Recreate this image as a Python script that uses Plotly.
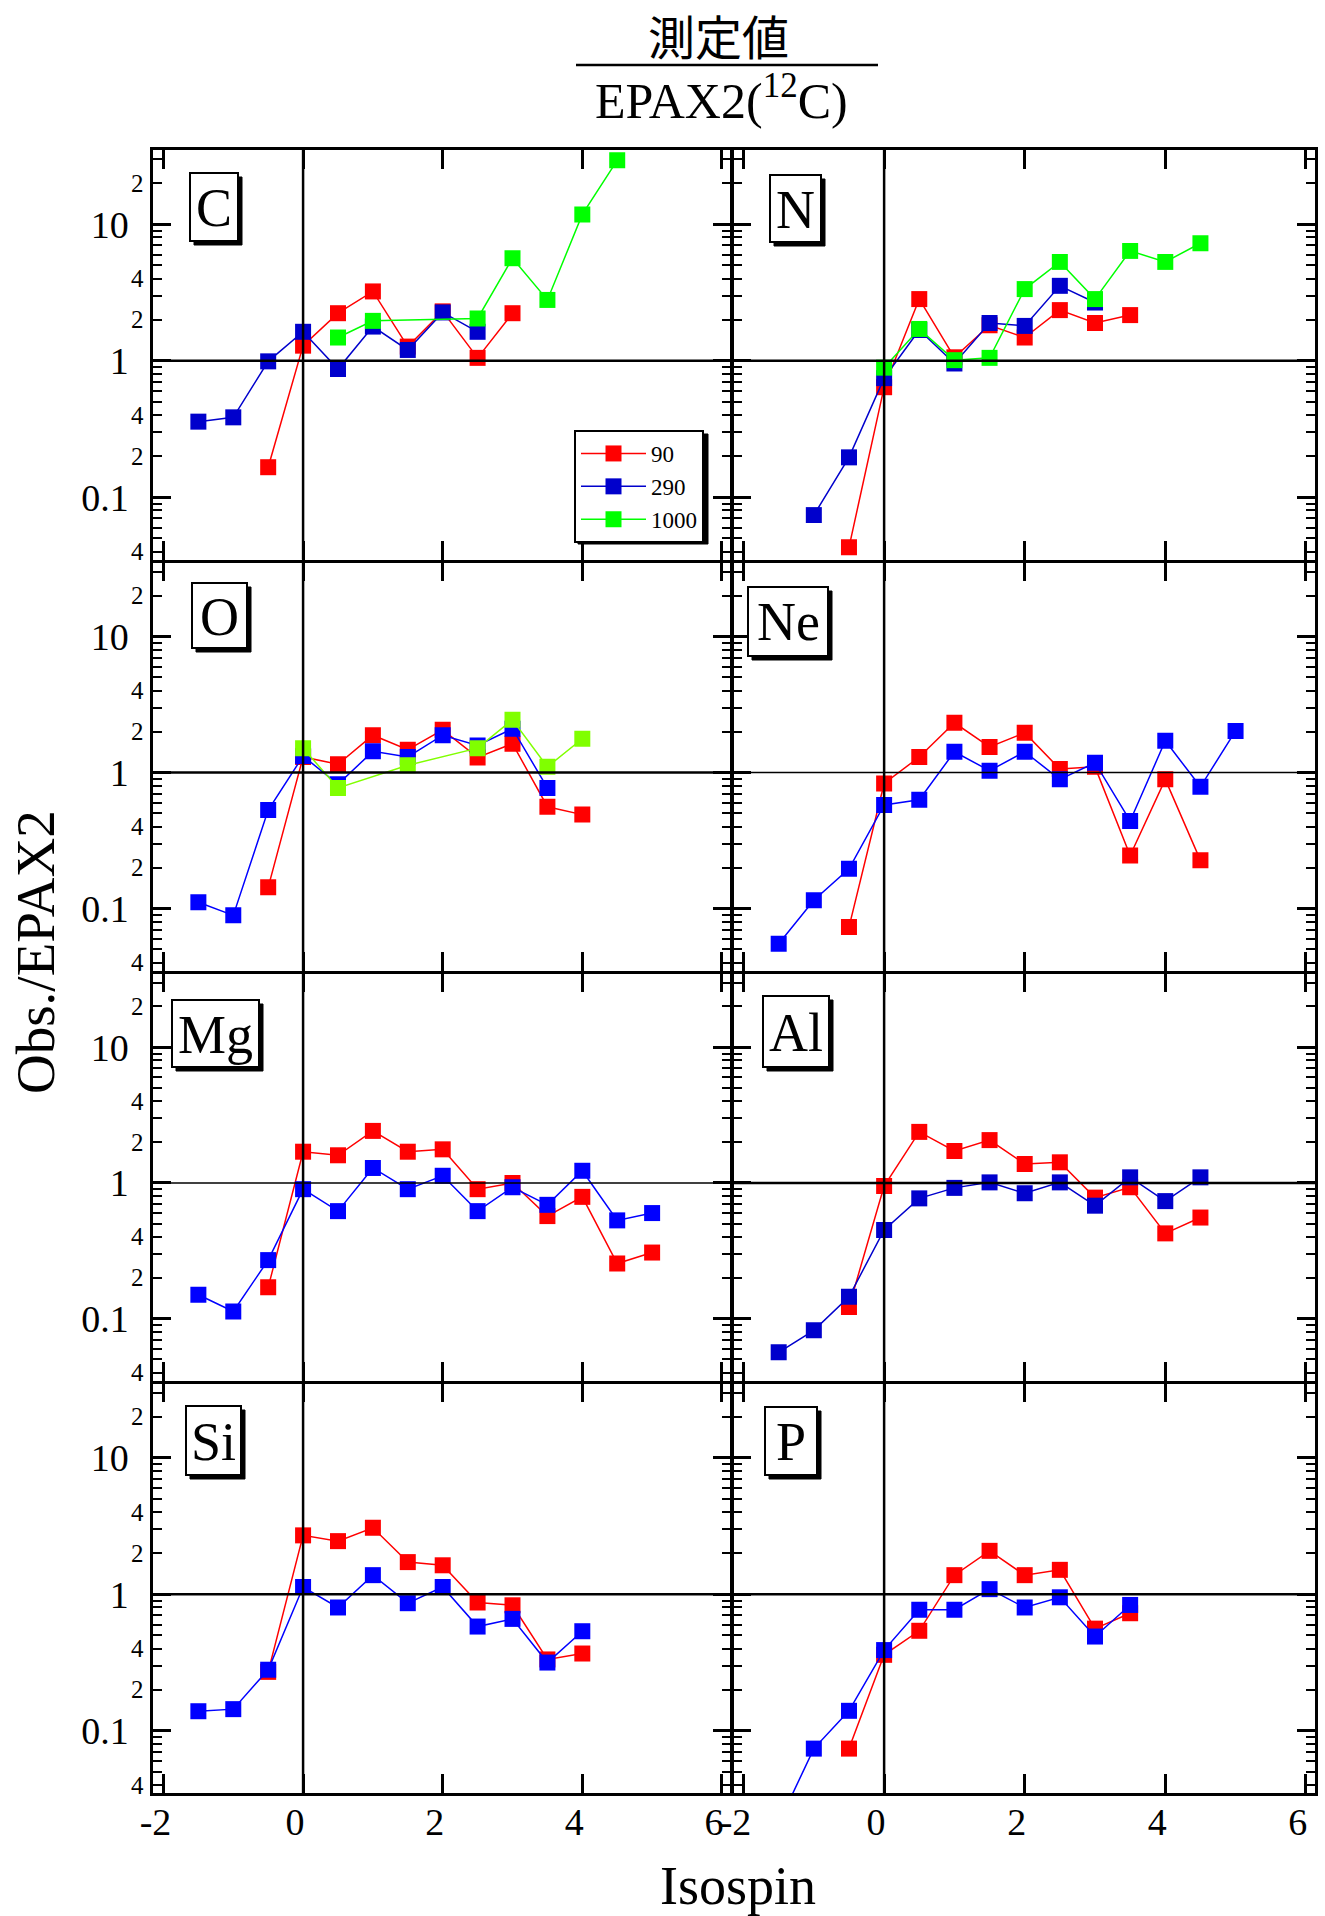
import math
import plotly.graph_objects as go

FONT = "Liberation Serif"
W, H = 1325, 1916

# ---------------- data (Isospin, Obs./EPAX2) ----------------
C_x90 = [-0.5, 0, 0.5, 1, 1.5, 2, 2.5, 3]
C_y90 = [0.166, 1.29, 2.23, 3.22, 1.27, 2.3, 1.05, 2.23]
C_x290 = [-1.5, -1, -0.5, 0, 0.5, 1, 1.5, 2, 2.5]
C_y290 = [0.358, 0.385, 0.99, 1.63, 0.87, 1.78, 1.2, 2.26, 1.63]
C_x1000 = [0.5, 1, 2.5, 3, 3.5, 4, 4.5]
C_y1000 = [1.48, 1.96, 2.04, 5.64, 2.79, 11.8, 29.4]

N_x90 = [-0.5, 0, 0.5, 1, 1.5, 2, 2.5, 3, 3.5]
N_y90 = [0.043, 0.64, 2.83, 1.06, 1.82, 1.48, 2.35, 1.89, 2.16]
N_x290 = [-1, -0.5, 0, 0.5, 1, 1.5, 2, 2.5, 3]
N_y290 = [0.074, 0.196, 0.746, 1.68, 0.955, 1.89, 1.80, 3.54, 2.67]
N_x1000 = [0, 0.5, 1, 1.5, 2, 2.5, 3, 3.5, 4, 4.5]
N_y1000 = [0.89, 1.71, 1.01, 1.05, 3.35, 5.3, 2.83, 6.38, 5.3, 7.26]

O_x90 = [-0.5, 0, 0.5, 1, 1.5, 2, 2.5, 3, 3.5, 4]
O_y90 = [0.143, 1.3, 1.15, 1.88, 1.47, 2.06, 1.29, 1.63, 0.56, 0.49]
O_x290 = [-1.5, -1, -0.5, 0, 0.5, 1, 1.5, 2, 2.5, 3, 3.5]
O_y290 = [0.111, 0.089, 0.53, 1.32, 0.82, 1.43, 1.30, 1.88, 1.58, 2.1, 0.77]
O_x1000 = [0, 0.5, 1.5, 2.5, 3, 3.5, 4]
O_y1000 = [1.51, 0.77, 1.13, 1.51, 2.44, 1.10, 1.77]

Ne_x90 = [-0.5, 0, 0.5, 1, 1.5, 2, 2.5, 3, 3.5, 4, 4.5]
Ne_y90 = [0.073, 0.83, 1.30, 2.32, 1.54, 1.96, 1.06, 1.1, 0.245, 0.89, 0.226]
Ne_x290 = [-1.5, -1, -0.5, 0, 0.5, 1, 1.5, 2, 2.5, 3, 3.5, 4, 4.5, 5]
Ne_y290 = [0.055, 0.115, 0.196, 0.577, 0.63, 1.42, 1.03, 1.42, 0.89, 1.18, 0.44, 1.71, 0.785, 2.02]

Mg_x90 = [-0.5, 0, 0.5, 1, 1.5, 2, 2.5, 3, 3.5, 4, 4.5, 5]
Mg_y90 = [0.17, 1.70, 1.60, 2.42, 1.70, 1.77, 0.90, 1.0, 0.57, 0.79, 0.255, 0.307]
Mg_x290 = [-1.5, -1, -0.5, 0, 0.5, 1, 1.5, 2, 2.5, 3, 3.5, 4, 4.5, 5]
Mg_y290 = [0.15, 0.113, 0.27, 0.90, 0.62, 1.29, 0.90, 1.13, 0.62, 0.93, 0.69, 1.23, 0.53, 0.60]

Al_x90 = [-0.5, 0, 0.5, 1, 1.5, 2, 2.5, 3, 3.5, 4, 4.5]
Al_y90 = [0.122, 0.95, 2.38, 1.72, 2.07, 1.38, 1.42, 0.78, 0.93, 0.425, 0.556]
Al_x290 = [-1.5, -1, -0.5, 0, 0.5, 1, 1.5, 2, 2.5, 3, 3.5, 4, 4.5]
Al_y290 = [0.0565, 0.082, 0.145, 0.45, 0.77, 0.92, 1.01, 0.84, 1.01, 0.68, 1.10, 0.735, 1.10]

Si_x90 = [-0.5, 0, 0.5, 1, 1.5, 2, 2.5, 3, 3.5, 4]
Si_y90 = [0.27, 2.70, 2.45, 3.07, 1.72, 1.63, 0.87, 0.83, 0.333, 0.368]
Si_x290 = [-1.5, -1, -0.5, 0, 0.5, 1, 1.5, 2, 2.5, 3, 3.5, 4]
Si_y290 = [0.139, 0.144, 0.28, 1.13, 0.80, 1.38, 0.86, 1.13, 0.58, 0.66, 0.316, 0.536]

P_x90 = [-0.5, 0, 0.5, 1, 1.5, 2, 2.5, 3, 3.5]
P_y90 = [0.074, 0.36, 0.54, 1.38, 2.08, 1.38, 1.51, 0.56, 0.726]
P_x290 = [-1.5, -1, -0.5, 0, 0.5, 1, 1.5, 2, 2.5, 3, 3.5]
P_y290 = [0.021, 0.074, 0.14, 0.39, 0.77, 0.77, 1.09, 0.80, 0.95, 0.49, 0.835]

energies = ["90", "290", "1000"]
x_ticks = [-2, 0, 2, 4, 6]
y_major = [0.1, 1, 10]
y_major_text = ["0.1", "1", "10"]
y_minor_labels = [(0.04, "4"), (0.2, "2"), (0.4, "4"), (2, "2"), (4, "4"), (20, "2")]

RED = "#ff0000"
BLUE_D = "#0000cc"
BLUE = "#0000ff"
GREEN = "#00ff00"
LIME = "#80ff00"

panels = [
    ("C", [(C_x90, C_y90, RED), (C_x290, C_y290, BLUE_D), (C_x1000, C_y1000, GREEN)]),
    ("N", [(N_x90, N_y90, RED), (N_x290, N_y290, BLUE_D), (N_x1000, N_y1000, GREEN)]),
    ("O", [(O_x90, O_y90, RED), (O_x290, O_y290, BLUE), (O_x1000, O_y1000, LIME)]),
    ("Ne", [(Ne_x90, Ne_y90, RED), (Ne_x290, Ne_y290, BLUE)]),
    ("Mg", [(Mg_x90, Mg_y90, RED), (Mg_x290, Mg_y290, BLUE)]),
    ("Al", [(Al_x90, Al_y90, RED), (Al_x290, Al_y290, BLUE_D)]),
    ("Si", [(Si_x90, Si_y90, RED), (Si_x290, Si_y290, BLUE)]),
    ("P", [(P_x90, P_y90, RED), (P_x290, P_y290, BLUE)]),
]
thin_unity_line = {"Ne", "Mg"}

# ---------------- layout geometry (pixels) ----------------
XR = [-2.15, 6.13]
YR = [-1.456, 1.544]
col_px = [(153, 731), (733, 1315)]
row_px = [(150, 559.5), (562.5, 970.5), (973.5, 1380.5), (1383.5, 1793)]
label_box_px = {"C": (190, 173, 238, 241), "N": (770, 175, 821, 242),
                "O": (192, 583, 247, 648), "Ne": (748, 587, 828, 656),
                "Mg": (172, 1000, 259, 1067), "Al": (763, 996, 829, 1067),
                "Si": (186, 1406, 241, 1475), "P": (765, 1407, 817, 1475)}
legend_px = (574, 430)
legend_size_px = (130, 110)


def px_x(v):
    return v / W


def px_y(v):
    return 1 - v / H


fig = go.Figure()
layout = dict(
    width=W, height=H, margin=dict(l=0, r=0, t=0, b=0, pad=0, autoexpand=False),
    paper_bgcolor="white", plot_bgcolor="white",
    font=dict(family=FONT, color="black"),
    showlegend=True,
    legend=dict(x=px_x(legend_px[0]), y=px_y(legend_px[1]), xanchor="left", yanchor="top",
                bgcolor="white", bordercolor="black", borderwidth=2,
                font=dict(family=FONT, size=23, color="black"),
                tracegroupgap=0, itemwidth=65),
)
shapes = []
annotations = []
one_frac = (0 - YR[0]) / (YR[1] - YR[0])

# legend shadow (legend itself is drawn on top)
shapes.append(dict(type="rect", xref="paper", yref="paper",
                   x0=px_x(legend_px[0] + 4), x1=px_x(legend_px[0] + legend_size_px[0] + 4),
                   y0=px_y(legend_px[1] + legend_size_px[1] + 4), y1=px_y(legend_px[1] + 4),
                   fillcolor="black", line=dict(color="black", width=1), layer="above"))

for i, (name, series) in enumerate(panels):
    r, c = divmod(i, 2)
    n = "" if i == 0 else str(i + 1)
    xa, ya = "x" + n, "y" + n
    x0, x1 = col_px[c]
    t, b = row_px[r]
    for k, (xs, ys, col) in enumerate(series):
        fig.add_trace(go.Scatter(
            x=xs, y=ys, xaxis=xa, yaxis=ya, mode="lines+markers",
            name=energies[k], showlegend=(i == 0),
            line=dict(color=col, width=1.5),
            marker=dict(symbol="square", size=16, color=col),
        ))
    layout["xaxis" + n] = dict(
        domain=[px_x(x0), px_x(x1)], range=XR, anchor=ya, automargin=False,
        showline=True, linecolor="black", linewidth=2.5, mirror="allticks",
        ticks="inside", ticklen=19, tickwidth=2.5, tickcolor="black",
        tickvals=x_ticks, ticktext=[str(v) for v in x_ticks],
        showticklabels=(r == 3), ticklabelshift=-8, ticklabelstandoff=-6,
        tickfont=dict(family=FONT, size=38),
        showgrid=False, zeroline=False,
    )
    layout["yaxis" + n] = dict(
        type="log", domain=[px_y(b), px_y(t)], range=YR, anchor=xa, automargin=False,
        showline=True, linecolor="black", linewidth=2.5, mirror="allticks",
        ticks="inside", ticklen=18, tickwidth=2.5, tickcolor="black",
        tickvals=y_major, ticktext=y_major_text, showticklabels=(c == 0),
        ticklabelstandoff=14,
        tickfont=dict(family=FONT, size=38),
        minor=dict(ticks="inside", ticklen=9, tickwidth=2, tickcolor="black",
                   tickvals=[m * 10 ** e for e in (-2, -1, 0, 1) for m in range(2, 10)]),
        showgrid=False, zeroline=False,
    )
    # reference lines: x = 0 and y = 1
    shapes.append(dict(type="line", xref=xa, yref=ya + " domain", x0=0, x1=0, y0=0, y1=1,
                       line=dict(color="black", width=2.5), layer="above"))
    shapes.append(dict(type="line", xref=xa + " domain", yref=ya + " domain", x0=0, x1=1,
                       y0=one_frac, y1=one_frac,
                       line=dict(color="black", width=1.5 if name in thin_unity_line else 2.5),
                       layer="above"))
    # element label box with shadow
    bx0, by0, bx1, by1 = label_box_px[name]
    shapes.append(dict(type="rect", xref="paper", yref="paper",
                       x0=px_x(bx0 + 4), x1=px_x(bx1 + 4), y0=px_y(by1 + 4), y1=px_y(by0 + 4),
                       fillcolor="black", line=dict(color="black", width=1), layer="above"))
    shapes.append(dict(type="rect", xref="paper", yref="paper",
                       x0=px_x(bx0), x1=px_x(bx1), y0=px_y(by1), y1=px_y(by0),
                       fillcolor="white", line=dict(color="black", width=2), layer="above"))
    annotations.append(dict(
        text=name, xref="paper", yref="paper", x=px_x((bx0 + bx1) / 2), y=px_y((by0 + by1) / 2 + 1),
        xanchor="center", yanchor="middle", showarrow=False,
        font=dict(family=FONT, size=54, color="black"),
    ))
    if c == 0:
        for v, txt in y_minor_labels:
            annotations.append(dict(
                text=txt, xref="paper", yref=ya, x=px_x(146), y=math.log10(v),
                xanchor="right", yanchor="middle", showarrow=False,
                font=dict(family=FONT, size=25, color="black"),
            ))

# titles
annotations.append(dict(text="測定値", xref="paper", yref="paper", x=px_x(718), y=px_y(35),
                        xanchor="center", yanchor="middle", showarrow=False,
                        font=dict(family="Noto Sans CJK JP", size=47, color="black")))
annotations.append(dict(text="EPAX2(<sup>12</sup>C)", xref="paper", yref="paper", x=px_x(722), y=px_y(97),
                        xanchor="center", yanchor="middle", showarrow=False,
                        font=dict(family=FONT, size=50, color="black")))
shapes.append(dict(type="line", xref="paper", yref="paper", x0=px_x(576), x1=px_x(878),
                   y0=px_y(65), y1=px_y(65), line=dict(color="black", width=2.5)))
annotations.append(dict(text="Obs./EPAX2", xref="paper", yref="paper", x=px_x(35), y=px_y(952),
                        xanchor="center", yanchor="middle", textangle=-90, showarrow=False,
                        font=dict(family=FONT, size=55, color="black")))
annotations.append(dict(text="Isospin", xref="paper", yref="paper", x=px_x(738), y=px_y(1886),
                        xanchor="center", yanchor="middle", showarrow=False,
                        font=dict(family=FONT, size=54, color="black")))

layout["shapes"] = shapes
layout["annotations"] = annotations
fig.update_layout(**layout)
fig.write_html("out.html")
